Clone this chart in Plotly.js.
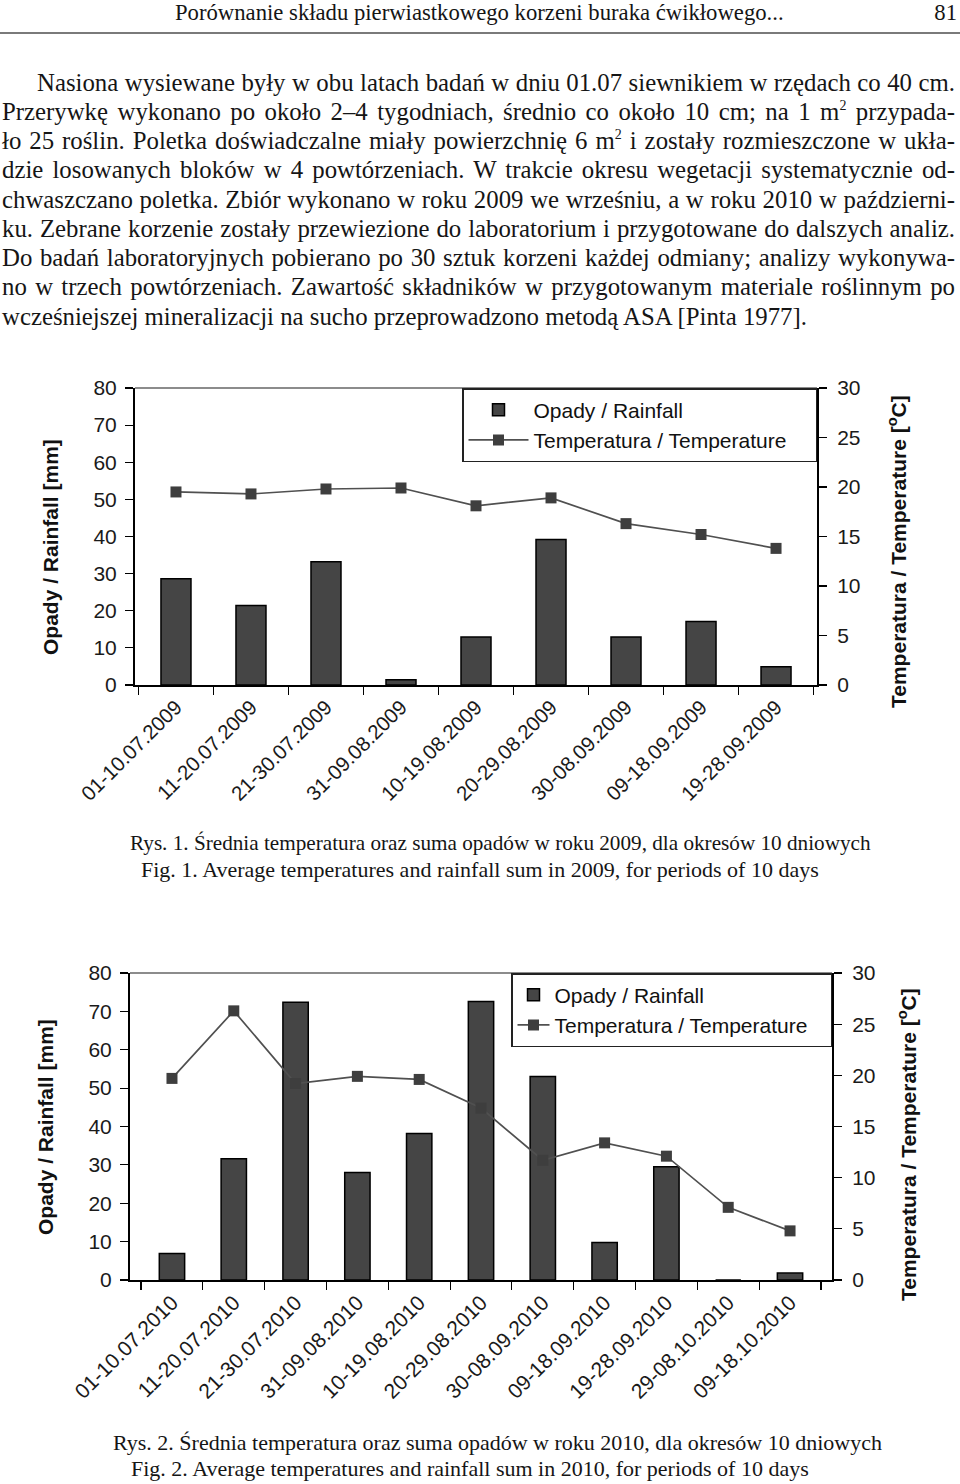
<!DOCTYPE html>
<html>
<head>
<meta charset="utf-8">
<script src="https://cdn.plot.ly/plotly-3.0.1.min.js"></script>
<style>
  html, body { margin:0; padding:0; background:#fff; }
  body { width:960px; height:1484px; position:relative; overflow:hidden; font-family:"Liberation Serif","Times New Roman",serif; color:#151515; }
  .t { position:absolute; white-space:nowrap; }
  .ln { position:absolute; left:2px; width:953px; font-size:24.8px; line-height:29px; height:29px; text-align:justify; text-align-last:justify; white-space:nowrap; }
  .ln.last { text-align:left; text-align-last:left; }
  .sp { font-size:14px; line-height:0; position:relative; top:-10px; }
  .cap { position:absolute; font-size:22px; line-height:26px; white-space:nowrap; }
  #c1 { position:absolute; left:0; top:360px; width:960px; height:480px; }
  #c2 { position:absolute; left:0; top:940px; width:960px; height:500px; }
</style>
</head>
<body>
<div class="t" style="left:175px; top:0px; font-size:22.7px; line-height:26px;">Porównanie składu pierwiastkowego korzeni buraka ćwikłowego...</div>
<div class="t" style="right:3px; top:0px; font-size:22.7px; line-height:26px;">81</div>
<div style="position:absolute; left:0; top:32px; width:960px; height:2px; background:#7a7a7a;"></div>

<div class="ln" style="top:68px; padding-left:35px; width:918px;">Nasiona wysiewane były w obu latach badań w dniu 01.07 siewnikiem w rzędach co 40 cm.</div>
<div class="ln" style="top:97px;">Przerywkę wykonano po około 2–4 tygodniach, średnio co około 10 cm; na 1 m<span class="sp">2</span> przypada-</div>
<div class="ln" style="top:126px;">ło 25 roślin. Poletka doświadczalne miały powierzchnię 6 m<span class="sp">2</span> i zostały rozmieszczone w ukła-</div>
<div class="ln" style="top:155px;">dzie losowanych bloków w 4 powtórzeniach. W trakcie okresu wegetacji systematycznie od-</div>
<div class="ln" style="top:185px;">chwaszczano poletka. Zbiór wykonano w roku 2009 we wrześniu, a w roku 2010 w październi-</div>
<div class="ln" style="top:214px;">ku. Zebrane korzenie zostały przewiezione do laboratorium i przygotowane do dalszych analiz.</div>
<div class="ln" style="top:243px;">Do badań laboratoryjnych pobierano po 30 sztuk korzeni każdej odmiany; analizy wykonywa-</div>
<div class="ln" style="top:272px;">no w trzech powtórzeniach. Zawartość składników w przygotowanym materiale roślinnym po</div>
<div class="ln last" style="top:302px;">wcześniejszej mineralizacji na sucho przeprowadzono metodą ASA [Pinta 1977].</div>

<div id="c1"></div>
<div class="cap" style="left:130px; top:830px; font-size:21.2px;">Rys. 1. Średnia temperatura oraz suma opadów w roku 2009, dla okresów 10 dniowych</div>
<div class="cap" style="left:141px; top:857px;">Fig. 1. Average temperatures and rainfall sum in 2009, for periods of 10 days</div>

<div id="c2"></div>
<div class="cap" style="left:113px; top:1430px;">Rys. 2. Średnia temperatura oraz suma opadów w roku 2010, dla okresów 10 dniowych</div>
<div class="cap" style="left:131px; top:1456px;">Fig. 2. Average temperatures and rainfall sum in 2010, for periods of 10 days</div>

<script>
// ---- data ----
const periods2009 = ['01-10.07.2009','11-20.07.2009','21-30.07.2009','31-09.08.2009','10-19.08.2009','20-29.08.2009','30-08.09.2009','09-18.09.2009','19-28.09.2009'];
const rainfall2009 = [28.6, 21.4, 33.2, 1.4, 12.9, 39.2, 12.9, 17.1, 4.9];
const temperature2009 = [19.5, 19.3, 19.8, 19.9, 18.1, 18.9, 16.3, 15.2, 13.8];

const periods2010 = ['01-10.07.2010','11-20.07.2010','21-30.07.2010','31-09.08.2010','10-19.08.2010','20-29.08.2010','30-08.09.2010','09-18.09.2010','19-28.09.2010','29-08.10.2010','09-18.10.2010'];
const rainfall2010 = [6.9, 31.6, 72.4, 28.0, 38.2, 72.6, 53.0, 9.8, 29.5, 0, 1.8];
const temperature2010 = [19.7, 26.3, 19.2, 19.9, 19.6, 16.8, 11.7, 13.4, 12.1, 7.1, 4.8];

const rainName = 'Opady / Rainfall';
const tempName = 'Temperatura / Temperature';
const leftTitle = 'Opady / Rainfall [mm]';
const rightTitle = 'Temperatura / Temperature [<sup>o</sup>C]';

const FONT = 'Liberation Sans, Arial, sans-serif';

function makeChart(id, cats, rain, temp, g) {
  const plotW = 960 - g.l - g.r;
  const plotH = g.H - g.t - g.b;
  const px2x = px => (px - g.l) / plotW;
  const py2y = py => (g.t + plotH - py) / plotH;
  const pad = '\u00a0'.repeat(g.legPad);

  const traces = [
    { type:'bar', x:cats, y:rain, name:rainName, yaxis:'y',
      marker:{ color:'#454545', line:{ color:'#000', width:1.5 } } },
    { type:'scatter', mode:'lines+markers', x:cats, y:temp, name:tempName + pad, yaxis:'y2',
      line:{ color:'#505050', width:1.7 },
      marker:{ symbol:'square', size:11, color:'#3e3e3e' } }
  ];
  const layout = {
    width:960, height:g.H,
    margin:{ l:g.l, r:g.r, t:g.t, b:g.b, pad:0 },
    paper_bgcolor:'rgba(0,0,0,0)', plot_bgcolor:'rgba(0,0,0,0)',
    font:{ family:FONT, color:'#1a1a1a', size:20 },
    bargap:g.gap,
    showlegend:true,
    legend:{ x:1, xanchor:'right', y:1, yanchor:'top', bgcolor:'#fff',
             bordercolor:'#222', borderwidth:1.5, font:{ size:21, family:FONT, color:'#111' },
             traceorder:'normal', itemwidth:g.itemW },
    xaxis:{ type:'category', tickangle:-45, tickfont:{ size:g.xfs },
            showline:true, linecolor:'#000', linewidth:2,
            ticks:'outside', ticklen:8, tickcolor:'#000', tickwidth:1.2, tickson:'boundaries',
            showgrid:false, zeroline:false, automargin:false },
    yaxis:{ range:[0,80], dtick:10, tick0:0, tickfont:{ size:21 },
            showline:true, linecolor:'#000', linewidth:2,
            ticks:'outside', ticklen:8, tickcolor:'#000', tickwidth:1.2,
            showgrid:false, zeroline:false, automargin:false, ticklabelstandoff:4 },
    yaxis2:{ range:[0,30], dtick:5, tick0:0, overlaying:'y', side:'right', tickfont:{ size:21 },
             showline:true, linecolor:'#000', linewidth:2,
             ticks:'outside', ticklen:8, tickcolor:'#000', tickwidth:1.2,
             showgrid:false, zeroline:false, automargin:false, ticklabelstandoff:6 },
    shapes:[ { type:'line', xref:'paper', yref:'paper', x0:0, x1:1, y0:1, y1:1,
               line:{ color:'#666', width:1.5 } } ],
    annotations:[
      { text:'<b>'+leftTitle+'</b>', textangle:-90, xref:'paper', yref:'paper',
        x:px2x(g.lt[0]), y:py2y(g.lt[1]), xanchor:'center', yanchor:'middle',
        showarrow:false, font:{ size:21, family:FONT, color:'#111' } },
      { text:'<b>'+rightTitle+'</b>', textangle:-90, xref:'paper', yref:'paper',
        x:px2x(g.rt[0]), y:py2y(g.rt[1]), xanchor:'center', yanchor:'middle',
        showarrow:false, font:{ size:21, family:FONT, color:'#111' } }
    ]
  };
  Plotly.newPlot(id, traces, layout, { staticPlot:true, displayModeBar:false });
}

makeChart('c1', periods2009, rainfall2009, temperature2009,
  { H:480, l:135, r:143, t:28, b:155, gap:0.6, lt:[50,547-360], rt:[897,551-360],
    itemW:60, legPad:4, xfs:20.5 });
makeChart('c2', periods2010, rainfall2010, temperature2010,
  { H:500, l:130, r:128, t:33, b:160, gap:0.59, lt:[45,1127-940], rt:[907,1145-940],
    itemW:32, legPad:3, xfs:21 });
</script>
</body>
</html>
